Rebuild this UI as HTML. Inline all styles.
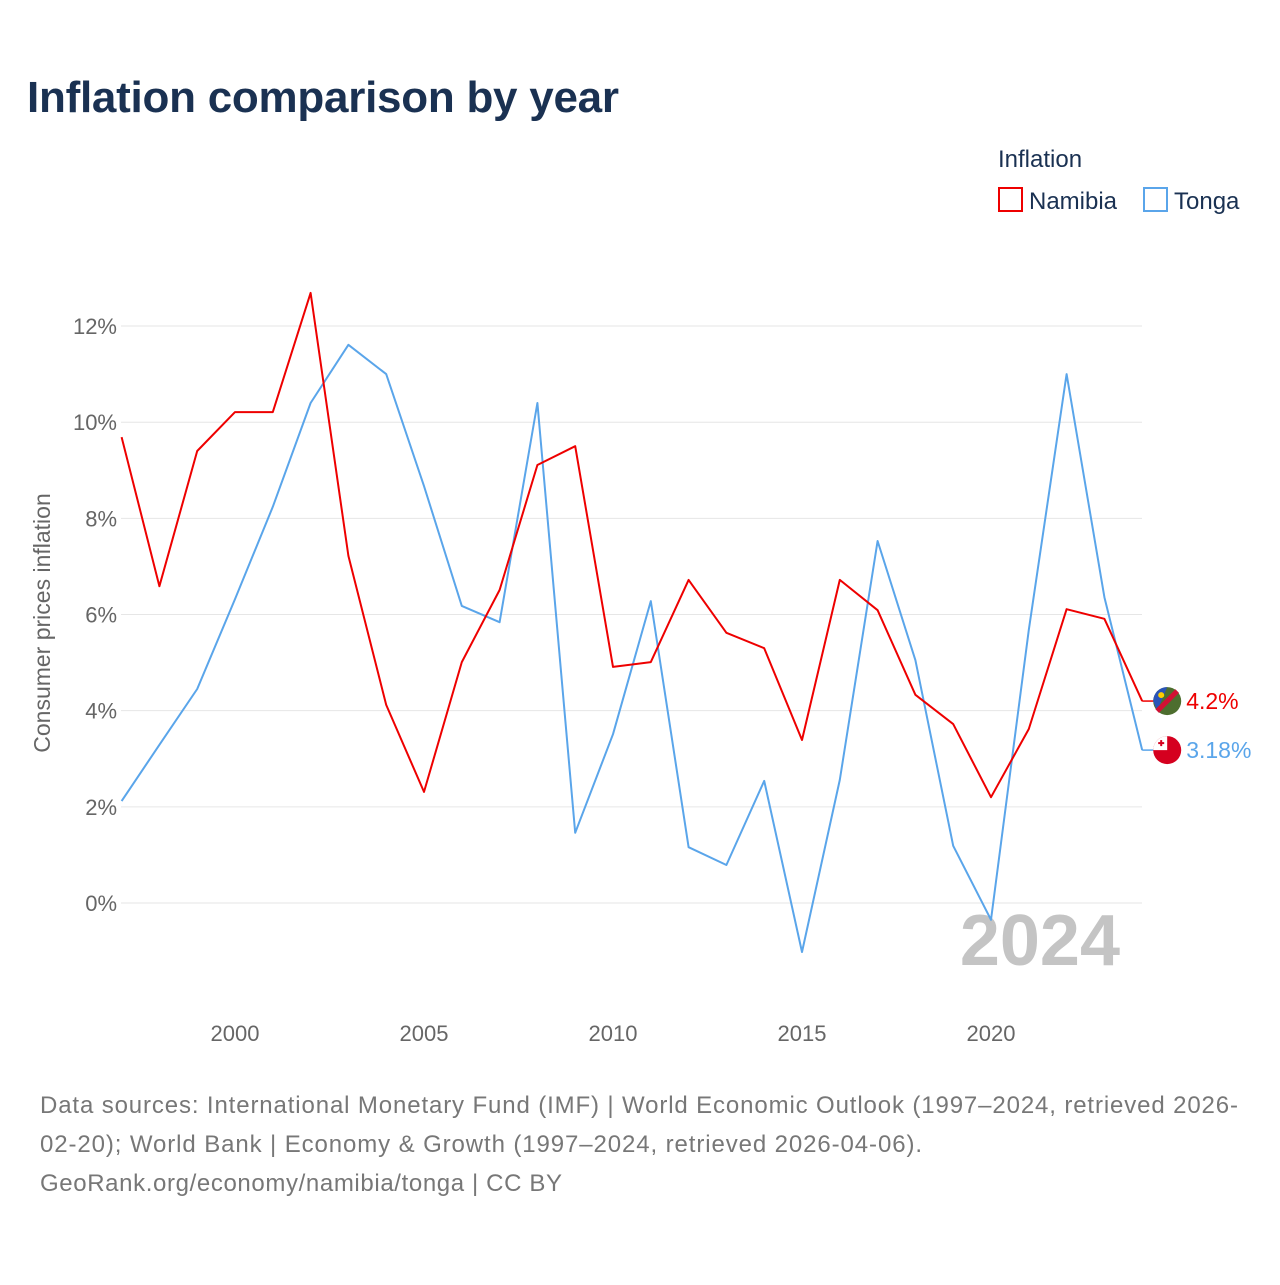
<!DOCTYPE html>
<html><head><meta charset="utf-8"><style>
body{margin:0;background:#fff;font-family:"Liberation Sans",sans-serif;}
</style></head><body>
<svg width="1280" height="1280" viewBox="0 0 1280 1280" xmlns="http://www.w3.org/2000/svg" font-family="Liberation Sans, sans-serif">
<text x="27" y="112" font-size="44" font-weight="bold" fill="#1a3152" textLength="592">Inflation comparison by year</text>
<g>
<text x="998" y="167" font-size="24" fill="#1a3152">Inflation</text>
<g><rect x="999" y="188" width="23" height="23" fill="none" stroke="#ee0000" stroke-width="2"/><text x="1029" y="209" font-size="24" fill="#1a3152">Namibia</text></g>
<g><rect x="1144" y="188" width="23" height="23" fill="none" stroke="#5aa5ea" stroke-width="2"/><text x="1174" y="209" font-size="24" fill="#1a3152">Tonga</text></g>
</g>
<g id="grid"></g>
<g id="yticks"></g>
<g id="xticks"></g>
<text transform="translate(50,623) rotate(-90)" text-anchor="middle" font-size="23" fill="#666">Consumer prices inflation</text>
<text x="1120" y="965" text-anchor="end" font-size="72" font-weight="bold" fill="#c4c4c4">2024</text>
<g id="series"></g>
<g font-size="24" fill="#777">
<text x="40" y="1113" textLength="1198">Data sources: International Monetary Fund (IMF) | World Economic Outlook (1997–2024, retrieved 2026-</text>
<text x="40" y="1152" textLength="882">02-20); World Bank | Economy &amp; Growth (1997–2024, retrieved 2026-04-06).</text>
<text x="40" y="1191" textLength="522">GeoRank.org/economy/namibia/tonga | CC BY</text>
</g>
</svg>
<script>
const years=[1997,1998,1999,2000,2001,2002,2003,2004,2005,2006,2007,2008,2009,2010,2011,2012,2013,2014,2015,2016,2017,2018,2019,2020,2021,2022,2023,2024];
const namibia=[9.69,6.59,9.40,10.21,10.21,12.69,7.22,4.12,2.31,5.01,6.51,9.11,9.50,4.91,5.01,6.72,5.62,5.30,3.39,6.72,6.09,4.33,3.72,2.20,3.62,6.11,5.91,4.2];
const tonga=[2.12,3.29,4.45,6.32,8.24,10.40,11.61,11.00,8.67,6.18,5.84,10.40,1.46,3.51,6.28,1.16,0.79,2.54,-1.02,2.56,7.53,5.05,1.19,-0.35,5.68,11.00,6.36,3.18];
const yTicks=[0,2,4,6,8,10,12];
const xTicks=[2000,2005,2010,2015,2020];
const NS="http://www.w3.org/2000/svg";
const X=v=>235+(v-2000)*37.8;
const Y=v=>903-v*48.08;
function mk(tag,attrs,parent){const e=document.createElementNS(NS,tag);for(const k in attrs)e.setAttribute(k,attrs[k]);parent.appendChild(e);return e;}
const grid=document.getElementById('grid'),yt=document.getElementById('yticks'),xt=document.getElementById('xticks'),ser=document.getElementById('series');
yTicks.forEach(t=>{
 const l=mk('line',{x1:121,x2:1142,y1:Y(t),y2:Y(t),stroke:'#e6e6e6','stroke-width':1},grid);
 
 
 const tx=mk('text',{x:117,y:Y(t)+8,'text-anchor':'end','font-size':22,fill:'#666'},yt);
 tx.textContent=t+'%';
 
 
});
xTicks.forEach(t=>{
 const tx=mk('text',{x:X(t),y:1041,'text-anchor':'middle','font-size':22,fill:'#666'},xt);
 tx.textContent=t;
 
 
});
function line(vals,color,name){
 const d=vals.map((v,i)=>(i?'L':'M')+X(years[i]).toFixed(1)+','+Y(v).toFixed(1)).join(' ');
 const p=mk('path',{d:d,fill:'none',stroke:color,'stroke-width':2,'stroke-linejoin':'round'},ser);
 
 
}
line(tonga,'#5aa5ea','tonga-line');
line(namibia,'#ee0000','namibia-line');
function endLabel(v,color,name,flag){
 const y=Y(v),x=X(2024);
 const g=mk('g',{},ser);
 
 
 mk('line',{x1:x,x2:x+12,y1:y,y2:y,stroke:color,'stroke-width':1.5},g);
 flag(g,x+25,y);
 const t=mk('text',{x:x+44,y:y+8,'font-size':23,fill:color},g);
 t.textContent=v+'%';
}
endLabel(namibia[27],'#ee0000','namibia-end-label',(g,cx,cy)=>{
 mk('circle',{cx:cx,cy:cy,r:14,fill:'#4d6e2f'},g);
 mk('path',{d:`M${cx-14},${cy} A14,14 0 0 1 ${cx},${cy-14} L${cx-10},${cy+10} Z`,fill:'#2a54b8'},g);
 mk('line',{x1:cx-10,y1:cy+10,x2:cx+10,y2:cy-10,stroke:'#d21034','stroke-width':5},g);
 mk('circle',{cx:cx-6,cy:cy-6,r:3,fill:'#ffce00'},g);
});
endLabel(tonga[27],'#5aa5ea','tonga-end-label',(g,cx,cy)=>{
 mk('circle',{cx:cx,cy:cy,r:14,fill:'#d5001f'},g);
 mk('path',{d:`M${cx-14},${cy} A14,14 0 0 1 ${cx},${cy-14} L${cx},${cy} Z`,fill:'#fff'},g);
 mk('rect',{x:cx-9,y:cy-8,width:6,height:2,fill:'#d5001f'},g);
 mk('rect',{x:cx-7,y:cy-10,width:2,height:6,fill:'#d5001f'},g);
});
</script>
</body></html>
